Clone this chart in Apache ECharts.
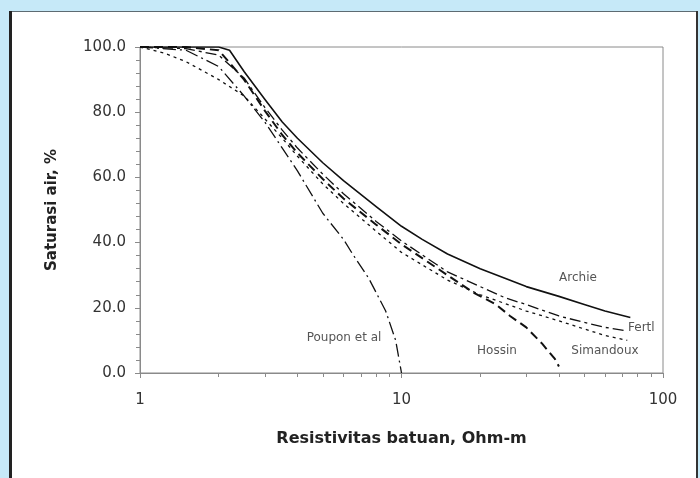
<!DOCTYPE html>
<html><head><meta charset="utf-8">
<script src="https://cdn.jsdelivr.net/npm/echarts@6/dist/echarts.min.js"></script>
<style>html,body{margin:0;padding:0;background:#c6e9f8}#c{width:700px;height:478px}</style>
</head><body><div id="c"></div><script>
// Data (x: resistivity Ohm-m, y: water saturation %)
const archie = [[1,100],[2,100],[2.2,99],[2.5,92.5],[3,84],[3.5,77],[4,72],[5,64.5],[6,59],[8,51],[10,45],[12,41],[15,36.5],[20,32],[25,29],[30,26.5],[40,23.5],[50,21],[60,19],[75,17]];
const fertl = [[1,100],[1.5,99.5],[2,97.5],[2.5,90.5],[3,81.5],[3.5,74.5],[4,69],[5,61],[6,55],[8,46.5],[10,40.5],[15,31],[20,26.5],[25,23],[30,21],[40,17.5],[50,15.5],[60,14],[72,13]];
const hossin = [[1,100],[1.5,100],[2,99],[2.5,90],[3,80.5],[3.5,73],[4,67.5],[5,59.5],[6,53.5],[8,45.5],[10,39.5],[15,30],[19,24.5],[23,21],[26,17.5],[30,14],[34.5,9],[38.6,4.3],[40,2]];
const simandoux = [[1,100],[1.25,98],[1.5,95.5],[2,90],[2.5,85],[3,78],[3.5,72],[4,66.5],[5,58],[6,52],[8,43.5],[10,37],[15,28.5],[20,24],[30,19],[40,16],[50,13.5],[60,11.5],[73,10]];
const poupon = [[1,100],[1.5,99],[2,94],[2.5,85],[3,77],[3.5,69],[4,62],[5,49],[6,41],[6.5,36.5],[7.5,29],[8.7,19],[9.5,10],[10,0]];
const seriesNames = ['Archie','Fertl','Hossin','Simandoux','Poupon et al'];
const xAxisTitle = 'Resistivitas batuan, Ohm-m';
const yAxisTitle = 'Saturasi air, %';

const FONT = 'DejaVu Sans';
const chart = echarts.init(document.getElementById('c'), null, {renderer:'canvas'});
function line(name, data, type, width){
  return {name, type:'line', data, showSymbol:false, smooth:false,
    lineStyle:{color:'#111', width, type, join:'round'}, z:3, silent:true};
}
const lbl = (text, x, y, align) => ({type:'text', x, y, style:{text, font:'12px "DejaVu Sans"', fill:'#555', align:align||'center', verticalAlign:'middle'}, z:10});
chart.setOption({
  backgroundColor:'#c6e9f8',
  animation:false,
  grid:{left:140, right:37, top:47, bottom:105, show:true, borderColor:'#8a8a8a', borderWidth:1, backgroundColor:'transparent'},
  xAxis:{type:'log', logBase:10, min:1, max:100,
    name:xAxisTitle, nameLocation:'middle', nameGap:58,
    nameTextStyle:{fontFamily:FONT, fontWeight:'bold', fontSize:16, color:'#222'},
    axisLine:{lineStyle:{color:'#8a8a8a'}},
    axisTick:{show:true, length:5, lineStyle:{color:'#8a8a8a'}},
    minorTick:{show:true, splitNumber:9, length:4, lineStyle:{color:'#8a8a8a'}},
    splitLine:{show:false}, minorSplitLine:{show:false},
    axisLabel:{fontFamily:FONT, fontSize:15, color:'#333', margin:20}},
  yAxis:{type:'value', min:0, max:100, interval:20,
    name:yAxisTitle, nameLocation:'middle', nameGap:80, nameRotate:90,
    nameTextStyle:{fontFamily:FONT, fontWeight:'bold', fontSize:15, color:'#222'},
    axisLine:{show:true, lineStyle:{color:'#8a8a8a'}},
    axisTick:{show:true, length:5, lineStyle:{color:'#8a8a8a'}},
    minorTick:{show:true, splitNumber:5, length:4, lineStyle:{color:'#8a8a8a'}},
    splitLine:{show:false},
    axisLabel:{fontFamily:FONT, fontSize:15, color:'#333', margin:14, formatter:v=>v.toFixed(1)}},
  series:[
    line(seriesNames[0], archie, 'solid', 1.6),
    line(seriesNames[1], fertl, [11,4,3,4], 1.3),
    line(seriesNames[2], hossin, [9,5], 2),
    line(seriesNames[3], simandoux, [3,4], 1.3),
    line(seriesNames[4], poupon, [13,4,2,4], 1.3)
  ],
  graphic:{elements:[
    {type:'rect', shape:{x:9, y:11, width:688, height:480}, style:{fill:'#fff'}, z:-100},
    {type:'line', shape:{x1:9, y1:11.5, x2:697, y2:11.5}, style:{stroke:'#5d6b72', lineWidth:1.2}, z:-50},
    {type:'line', shape:{x1:10.5, y1:11, x2:10.5, y2:478}, style:{stroke:'#222', lineWidth:3}, z:-50},
    {type:'line', shape:{x1:697, y1:11, x2:697, y2:478}, style:{stroke:'#333', lineWidth:2}, z:-50},
    lbl('Archie', 578, 278),
    lbl('Fertl', 628, 328, 'left'),
    lbl('Simandoux', 605, 351),
    lbl('Hossin', 497, 351),
    lbl('Poupon et al', 344, 338)
  ]}
});
</script></body></html>
